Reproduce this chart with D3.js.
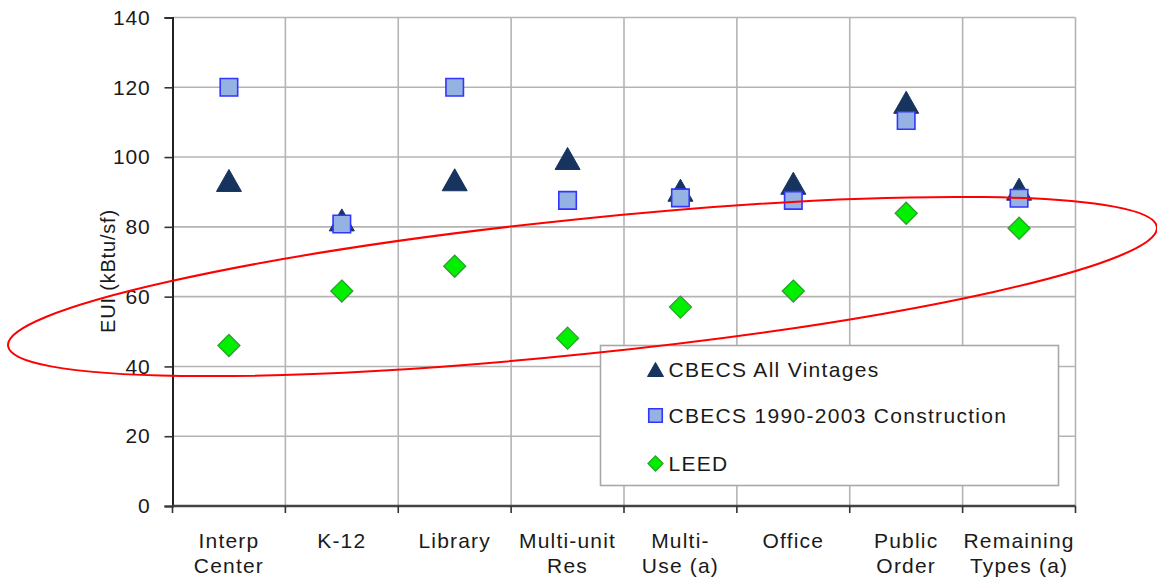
<!DOCTYPE html>
<html>
<head>
<meta charset="utf-8">
<script src="https://cdn.jsdelivr.net/npm/d3@7"></script>
<style>
  html, body { margin: 0; padding: 0; background: #fff; }
  svg { display: block; }
  text { font-family: "Liberation Sans", Arial, sans-serif; fill: #1a1a1a; }
</style>
</head>
<body>
<svg id="chart" width="1157" height="578"></svg>
<script>
// ---- data ----
const categories = [
  ["Interp", "Center"],
  ["K-12"],
  ["Library"],
  ["Multi-unit", "Res"],
  ["Multi-", "Use (a)"],
  ["Office"],
  ["Public", "Order"],
  ["Remaining", "Types (a)"]
];
const categoryKeys = ["Interp Center", "K-12", "Library", "Multi-unit Res", "Multi-Use (a)", "Office", "Public Order", "Remaining Types (a)"];
const cbecsAll   = [93.3, 82.0, 93.5, 99.6, 90.5, 92.5, 115.7, 90.8];
const cbecs1990  = [120.0, 80.8, 120.0, 87.6, 88.3, 87.6, 110.5, 88.2];
const leed       = [46.0, 61.6, 68.7, 48.1, 57.0, 61.6, 83.9, 79.6];
const yTicks     = [0, 20, 40, 60, 80, 100, 120, 140];
const seriesNames = ["CBECS All Vintages", "CBECS 1990-2003 Construction", "LEED"];

// ---- layout ----
const svg = d3.select("#chart");
const margin = { left: 172.5, top: 17.5, right: 1157 - 1075.5, bottom: 578 - 506 };
const W = 1157 - margin.left - margin.right;
const H = 578 - margin.top - margin.bottom;

const x = d3.scaleBand().domain(categoryKeys).range([0, W]).padding(0);
const y = d3.scaleLinear().domain([0, 140]).range([H, 0]);

const g = svg.append("g").attr("transform", `translate(${margin.left},${margin.top})`);

// horizontal gridlines
g.append("g")
  .selectAll("line")
  .data(yTicks.filter(t => t > 0))
  .join("line")
  .attr("x1", 0).attr("x2", W)
  .attr("y1", d => y(d)).attr("y2", d => y(d))
  .attr("stroke", "#b4b4b4").attr("stroke-width", 1.6);

// vertical gridlines (band boundaries)
const boundaries = categoryKeys.slice(1).map(k => x(k)).concat([W]);
g.append("g")
  .selectAll("line")
  .data(boundaries)
  .join("line")
  .attr("x1", d => d).attr("x2", d => d)
  .attr("y1", 0).attr("y2", H)
  .attr("stroke", "#b4b4b4").attr("stroke-width", 1.6);

// y axis
const yAxis = g.append("g")
  .call(d3.axisLeft(y).tickValues(yTicks).tickSize(8).tickPadding(14).tickFormat(d3.format("d")));
yAxis.select(".domain").attr("stroke", "#222").attr("stroke-width", 2);
yAxis.selectAll(".tick line").attr("stroke", "#333").attr("stroke-width", 1.6);
yAxis.selectAll(".tick text")
  .style("font-size", "21px").style("letter-spacing", "0.8px")
  .attr("fill", "#1a1a1a").attr("font-family", null);

// x axis
const xAxisG = g.append("g").attr("transform", `translate(0,${H})`);
xAxisG.append("line").attr("x1", 0).attr("x2", W).attr("y1", 0).attr("y2", 0)
  .attr("stroke", "#444").attr("stroke-width", 2.5);
xAxisG.selectAll("line.tk")
  .data([0].concat(boundaries))
  .join("line").attr("class", "tk")
  .attr("x1", d => d).attr("x2", d => d).attr("y1", 0).attr("y2", 7)
  .attr("stroke", "#333").attr("stroke-width", 1.6);

const labelG = xAxisG.selectAll("text.cat")
  .data(categoryKeys)
  .join("text").attr("class", "cat")
  .attr("text-anchor", "middle")
  .attr("x", d => x(d) + x.bandwidth() / 2)
  .style("font-size", "21px").style("letter-spacing", "1.2px");
labelG.each(function(d, i) {
  const t = d3.select(this);
  categories[i].forEach((line, j) => {
    t.append("tspan").attr("x", x(d) + x.bandwidth() / 2).attr("y", 42 + j * 25).text(line);
  });
});

// y axis title
svg.append("text")
  .attr("transform", `translate(115,271) rotate(-90)`)
  .attr("text-anchor", "middle")
  .style("font-size", "20px").style("letter-spacing", "0.8px")
  .text("EUI (kBtu/sf)");

// marker shapes
const triPath = (w, h) => `M0,${-h/2}L${w/2},${h/2}L${-w/2},${h/2}Z`;
const sqPath = (s) => `M${-s/2},${-s/2}h${s}v${s}h${-s}Z`;
const diaPath = (w, h) => `M0,${-h/2}L${w/2},0L0,${h/2}L${-w/2},0Z`;

const styles = [
  { fill: "#17345f", stroke: "#17345f", sw: 1, path: triPath(25, 22), lpath: triPath(16, 14) },
  { fill: "#95b3e2", stroke: "#3434ff", sw: 1.6, path: sqPath(17.5), lpath: sqPath(13.5) },
  { fill: "#00f000", stroke: "#2f9e2f", sw: 1.3, path: diaPath(22, 22), lpath: diaPath(15, 15) }
];
const seriesData = [cbecsAll, cbecs1990, leed];

const cx = i => x(categoryKeys[i]) + x.bandwidth() / 2;
seriesData.forEach((vals, s) => {
  g.append("g").selectAll("path")
    .data(vals)
    .join("path")
    .attr("transform", (d, i) => `translate(${cx(i)},${y(d)})`)
    .attr("d", styles[s].path)
    .attr("fill", styles[s].fill)
    .attr("stroke", styles[s].stroke)
    .attr("stroke-width", styles[s].sw)
    .attr("stroke-linejoin", "miter");
});

// legend
const lg = svg.append("g").attr("transform", "translate(600.5,345.5)");
lg.append("rect").attr("width", 458).attr("height", 140)
  .attr("fill", "#fff").attr("stroke", "#a8a8a8").attr("stroke-width", 1.6);
const legendRows = [24, 70, 118];
seriesNames.forEach((name, s) => {
  const row = lg.append("g").attr("transform", `translate(55,${legendRows[s]})`);
  row.append("path").attr("d", styles[s].lpath)
    .attr("fill", styles[s].fill).attr("stroke", styles[s].stroke).attr("stroke-width", styles[s].sw);
  row.append("text").attr("x", 13).attr("y", 7.5)
    .style("font-size", "21px").style("letter-spacing", "1.3px")
    .text(name);
});

// red ellipse annotation
svg.append("ellipse")
  .attr("transform", "translate(582.5,286.5) rotate(-5.9)")
  .attr("rx", 577.5).attr("ry", 67.4)
  .attr("fill", "none").attr("stroke", "#ff0000").attr("stroke-width", 2);
</script>
</body>
</html>
